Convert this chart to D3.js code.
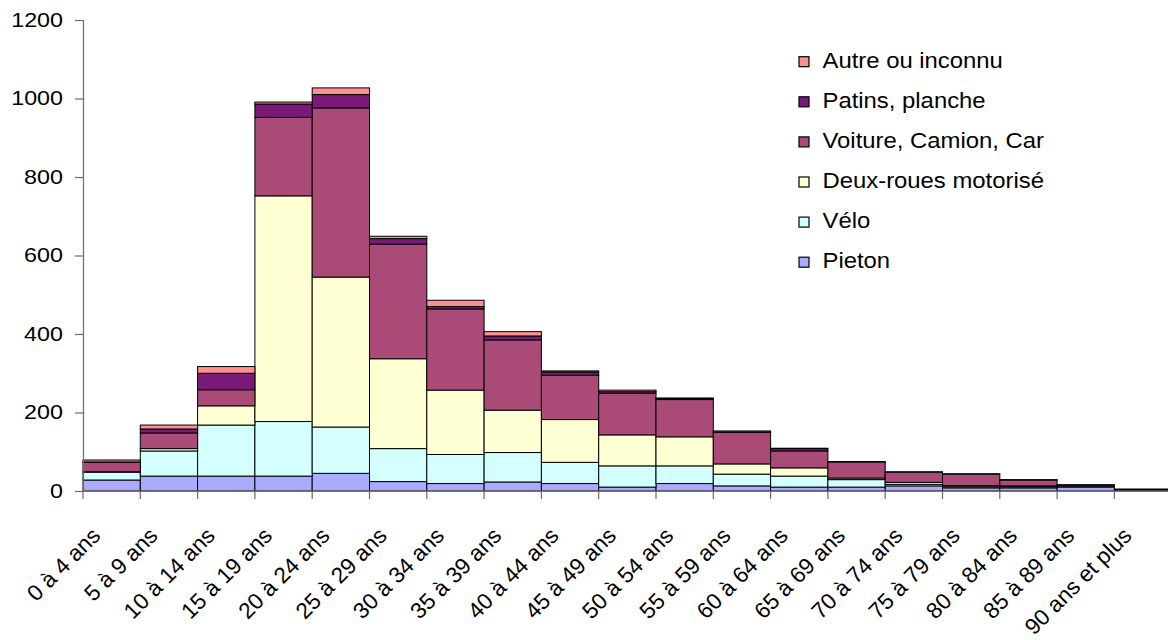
<!DOCTYPE html>
<html>
<head>
<meta charset="utf-8">
<script src="https://cdn.jsdelivr.net/npm/d3@7"></script>
<style>
  html, body { margin: 0; padding: 0; background: #fff; }
  svg { display: block; }
  text { font-family: "Liberation Sans", Arial, sans-serif; fill: #000; }
</style>
</head>
<body>
<svg id="chart" width="1168" height="640"></svg>
<script>
// Age groups
const categories = ["0 à 4 ans", "5 à 9 ans", "10 à 14 ans", "15 à 19 ans", "20 à 24 ans",
  "25 à 29 ans", "30 à 34 ans", "35 à 39 ans", "40 à 44 ans", "45 à 49 ans", "50 à 54 ans",
  "55 à 59 ans", "60 à 64 ans", "65 à 69 ans", "70 à 74 ans", "75 à 79 ans", "80 à 84 ans",
  "85 à 89 ans", "90 ans et plus"];

// Counts per mode of transport (stacked bottom to top)
const pieton    = [28, 38, 38, 38, 45, 24, 19, 23, 19, 10, 19, 13, 10, 10, 13, 8, 8, 10, 3];
const velo      = [20, 64, 130, 139, 118, 84, 74, 75, 54, 54, 45, 30, 28, 19, 4, 3, 3, 3, 1];
const deuxRoues = [1, 6, 49, 575, 382, 229, 164, 108, 109, 79, 74, 26, 21, 4, 5, 3, 2, 1, 0];
const voiture   = [24, 40, 41, 200, 431, 292, 207, 179, 113, 106, 95, 80, 43, 41, 26, 29, 15, 1, 1];
const patins    = [1, 10, 42, 34, 34, 14, 6, 10, 8, 4, 2, 1, 6, 0, 0, 0, 0, 0, 0];
const autre     = [5, 10, 17, 5, 17, 6, 16, 11, 3, 4, 2, 3, 1, 1, 1, 1, 1, 1, 0];

const seriesNames = ["Pieton", "Vélo", "Deux-roues motorisé", "Voiture, Camion, Car", "Patins, planche", "Autre ou inconnu"];
const seriesValues = [pieton, velo, deuxRoues, voiture, patins, autre];
const seriesColors = ["#aaaaff", "#d4ffff", "#ffffd4", "#aa4a76", "#7a1a78", "#ff9090"];

const yTicks = [0, 200, 400, 600, 800, 1000, 1200];

const svg = d3.select("#chart");
const stretch = 1.11;

const plotLeft = 83, plotTop = 20, plotBottom = 491;
const bandW = 57.3;
const plotRight = plotLeft + bandW * categories.length;

const x = d3.scaleBand().domain(categories).range([plotLeft, plotRight]).padding(0);
const y = d3.scaleLinear().domain([0, 1200]).range([plotBottom, plotTop]);

// Build rows for d3.stack
const rows = categories.map((c, i) => {
  const r = { cat: c };
  seriesNames.forEach((s, k) => { r[s] = seriesValues[k][i]; });
  return r;
});
const stacked = d3.stack().keys(seriesNames)(rows);

// Bars
const layers = svg.append("g").selectAll("g")
  .data(stacked)
  .join("g")
  .attr("fill", (d, i) => seriesColors[i]);

layers.selectAll("rect")
  .data(d => d)
  .join("rect")
  .attr("x", d => x(d.data.cat))
  .attr("width", x.bandwidth())
  .attr("y", d => y(d[1]))
  .attr("height", d => y(d[0]) - y(d[1]))
  .attr("stroke", "#000")
  .attr("stroke-width", 1);

// Y axis
const yAxis = d3.axisLeft(y).tickValues(yTicks).tickSize(8).tickFormat(d3.format("d"));
const yg = svg.append("g").attr("transform", `translate(${plotLeft},0)`).call(yAxis);
yg.select(".domain").attr("stroke", "#6b6b6b").attr("stroke-width", 1.2);
yg.selectAll(".tick line").attr("stroke", "#6b6b6b").attr("stroke-width", 1.2);
yg.selectAll(".tick text").remove();
yg.selectAll(".tick").append("text")
  .attr("transform", `translate(-20,6) scale(${stretch},1)`)
  .attr("text-anchor", "end")
  .style("font-size", "21px")
  .text(d => d);

// X axis: ticks at category boundaries
const xg = svg.append("g");
xg.append("line")
  .attr("x1", plotLeft).attr("x2", plotRight)
  .attr("y1", plotBottom).attr("y2", plotBottom)
  .attr("stroke", "#6b6b6b").attr("stroke-width", 1.2);
const bounds = categories.map(c => x(c)).concat([plotRight]);
xg.selectAll("line.tk").data(bounds).join("line")
  .attr("class", "tk")
  .attr("x1", d => d).attr("x2", d => d)
  .attr("y1", plotBottom).attr("y2", plotBottom + 8)
  .attr("stroke", "#6b6b6b").attr("stroke-width", 1.2);

xg.selectAll("text.lbl").data(categories).join("text")
  .attr("class", "lbl")
  .attr("text-anchor", "end")
  .style("font-size", "22.5px")
  .attr("transform", d => `translate(${x(d) + x.bandwidth() / 2 - 10},${537}) rotate(-45)`)
  .text(d => d);

// Legend (top entry is the top of the stack)
const legendItems = seriesNames.map((n, i) => ({ name: n, color: seriesColors[i] })).reverse();
const lg = svg.append("g");
const li = lg.selectAll("g").data(legendItems).join("g")
  .attr("transform", (d, i) => `translate(0,${67.7 + i * 40.1})`);
li.append("rect")
  .attr("x", 799).attr("y", -11)
  .attr("width", 10).attr("height", 10)
  .attr("fill", d => d.color)
  .attr("stroke", "#000").attr("stroke-width", 1.2);
li.append("text")
  .attr("transform", `translate(822.5,0) scale(${stretch},1)`)
  .style("font-size", "21.5px")
  .text(d => d.name);
</script>
</body>
</html>
